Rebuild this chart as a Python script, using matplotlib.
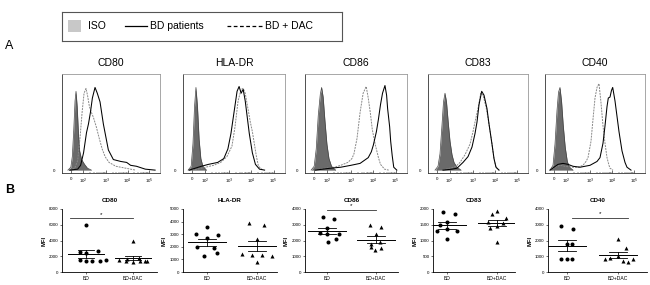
import numpy as np
import matplotlib
matplotlib.use('Agg')
import matplotlib.pyplot as plt
from matplotlib.patches import Rectangle

plt.rcParams['font.family'] = ['Liberation Sans', 'DejaVu Sans']

W, H = 650, 285

# ---- panel A: histogram curves, (channel 0-100, % of max)
markers = ['CD80', 'HLA-DR', 'CD86', 'CD83', 'CD40']
tick_labels = ['0', '10$^2$', '10$^3$', '10$^4$', '10$^5$']
tick_channels = [9, 21.5, 45, 67, 89]

cd80_iso = [(6, 0), (9, 3), (10.5, 14), (12, 42), (13.3, 72), (14.3, 82), (15.5, 66), (16.8, 38),
            (18, 20), (20, 11), (23, 6), (26, 2), (30, 0)]
cd80_bd = [(8, 0), (16, 1), (19, 5), (22, 18), (25, 39), (27, 48), (29, 60), (31, 75), (33.7, 86),
           (36, 80), (38.8, 71), (42.2, 48), (47.3, 21), (52.4, 11), (60, 9), (66, 8), (70, 5),
           (76, 4), (85, 1), (95, 0)]
cd80_dac = [(8, 0), (13, 2), (16, 10), (18.5, 35), (20.5, 60), (22.5, 80), (24.5, 85), (26, 78),
            (28, 66), (30, 60), (32, 55), (35, 45), (38, 33), (41, 22), (44, 14), (48, 8),
            (55, 4), (65, 2), (75, 0)]

hla_iso = [(5, 0), (8, 4), (9.8, 28), (11.3, 66), (12.7, 86), (14.2, 66), (15.8, 32), (17.5, 12),
           (19.5, 4), (23, 0)]
hla_bd = [(6, 0), (12, 2), (18, 4), (25, 6), (34, 8), (40, 12), (44, 22), (47, 38), (50, 60),
          (53, 82), (55, 87), (57, 80), (59, 84), (61, 72), (63, 55), (65, 38), (68, 18),
          (71, 6), (75, 1), (80, 0)]
hla_dac = [(6, 0), (14, 1), (22, 3), (30, 5), (37, 8), (43, 14), (48, 25), (51, 45), (54, 72),
           (57, 84), (59, 85), (61, 80), (63, 68), (66, 50), (68, 40), (70, 27), (72, 14),
           (74, 4), (78, 0)]

cd86_iso = [(6, 0), (9, 4), (11, 22), (13, 57), (15, 79), (16.3, 86), (17.8, 76), (19.5, 52),
            (21.5, 27), (23.5, 12), (26, 4), (30, 0)]
cd86_dac = [(10, 0), (20, 2), (29, 3), (35, 5), (42, 8), (46, 12), (48, 17), (51, 33), (54, 60),
            (57, 80), (60, 87), (62, 75), (64, 60), (66, 42), (69, 26), (72, 13), (74, 6),
            (78, 1), (82, 0)]
cd86_bd = [(10, 0), (25, 2), (35, 3), (45, 5), (54, 7), (58, 10), (62, 13), (65, 19), (67, 26),
           (70, 40), (72, 53), (74, 68), (76, 80), (78.4, 88), (80, 78), (81, 64), (83, 45),
           (84, 30), (85.5, 15), (87, 3), (90, 0)]

cd83_iso = [(7, 0), (10, 4), (12, 17), (14, 47), (15.5, 71), (17, 80), (18.5, 71), (20.2, 50),
            (22, 30), (24, 16), (26, 8), (29, 3), (33, 0)]
cd83_bd = [(15, 0), (24, 1), (29, 2), (35, 8), (40, 14), (44, 24), (47, 38), (49, 50), (51, 68),
           (53.7, 82), (56, 78), (59, 64), (61, 48), (64, 27), (66, 12), (68, 3), (71, 0)]
cd83_dac = [(15, 0), (22, 2), (28, 4), (32, 8), (37, 16), (42, 27), (45, 40), (47, 50),
            (50, 64), (52.7, 80), (55, 78), (58, 66), (61, 48), (64, 27), (66, 12), (68, 3),
            (71, 0)]

cd40_iso = [(5, 0), (8, 5), (10, 27), (12, 62), (13.5, 81), (15, 86), (16.6, 71), (18.2, 47),
            (20.2, 24), (22.3, 9), (24.5, 3), (28, 0)]
cd40_dac = [(5, 0), (10, 3), (15, 5), (20, 4), (27, 3), (33, 3), (38, 5), (41, 9), (43, 13),
            (46, 30), (48, 53), (50, 75), (52, 86), (54, 90), (56, 70), (58, 46), (60, 28),
            (62, 13), (64, 5), (65, 2), (68, 0)]
cd40_bd = [(5, 0), (9, 3), (13, 6), (18, 7), (23, 6), (28, 4), (35, 3), (45, 5), (52, 9),
           (55, 13), (58, 28), (60, 46), (62, 66), (63.3, 75), (65, 76), (66.5, 83), (67.7, 86),
           (70, 72), (72, 56), (74, 40), (77, 20), (80, 8), (82, 3), (86, 0)]

iso_curves = [cd80_iso, hla_iso, cd86_iso, cd83_iso, cd40_iso]
bd_curves = [cd80_bd, hla_bd, cd86_bd, cd83_bd, cd40_bd]
dac_curves = [cd80_dac, hla_dac, cd86_dac, cd83_dac, cd40_dac]

# ---- panel B: MFI values per patient
groups = ['BD', 'BD+DAC']
cd80_bd_mfi = [6000, 2700, 2550, 2450, 1500, 1350, 1350, 1400, 1500]
cd80_dac_mfi = [4000, 1800, 1650, 1500, 1450, 1350, 1300, 1350, 1400]
hla_bd_mfi = [3600, 3050, 2900, 2700, 2000, 1900, 1500, 1300]
hla_dac_mfi = [3850, 3750, 2600, 1400, 1350, 1350, 1300, 800]
cd86_bd_mfi = [3500, 3350, 2800, 2500, 2400, 2400, 2100, 1900]
cd86_dac_mfi = [3000, 2850, 2400, 1900, 1800, 1600, 1500, 1400]
cd83_bd_mfi = [1900, 1850, 1600, 1500, 1350, 1300, 1300, 1050]
cd83_dac_mfi = [1950, 1850, 1700, 1600, 1550, 1450, 1400, 950]
cd40_bd_mfi = [2950, 2750, 1800, 1750, 850, 800, 800]
cd40_dac_mfi = [2100, 1550, 1000, 900, 800, 700, 650, 800]

# horizontal jitter of the dots (category units)
cd80_bd_jit = [0, 0.25, -0.12, 0.0, -0.12, 0.0, 0.12, 0.3, 0.42]
cd80_dac_jit = [0, 0.12, -0.12, -0.3, 0.25, -0.15, 0.0, 0.15, 0.3]
hla_bd_jit = [0, -0.22, 0.22, 0.0, -0.2, 0.15, 0.2, -0.05]
hla_dac_jit = [-0.15, 0.15, 0.0, -0.3, -0.1, 0.1, 0.3, 0.0]
cd86_bd_jit = [-0.08, 0.15, 0.0, -0.15, 0.0, 0.25, 0.18, 0.02]
cd86_dac_jit = [-0.12, 0.1, 0.0, 0.08, -0.1, -0.1, 0.1, -0.02]
cd83_bd_jit = [-0.08, 0.15, 0.0, -0.15, 0.0, 0.2, -0.2, 0.0]
cd83_dac_jit = [0.0, -0.1, 0.18, -0.18, 0.12, 0.0, -0.15, 0.0]
cd40_bd_jit = [-0.12, 0.12, 0.1, 0.0, -0.12, 0.1, 0.0]
cd40_dac_jit = [0.0, 0.15, 0.0, -0.15, -0.25, 0.1, 0.2, 0.3]

bd_sets = [cd80_bd_mfi, hla_bd_mfi, cd86_bd_mfi, cd83_bd_mfi, cd40_bd_mfi]
dac_sets = [cd80_dac_mfi, hla_dac_mfi, cd86_dac_mfi, cd83_dac_mfi, cd40_dac_mfi]
bd_jits = [cd80_bd_jit, hla_bd_jit, cd86_bd_jit, cd83_bd_jit, cd40_bd_jit]
dac_jits = [cd80_dac_jit, hla_dac_jit, cd86_dac_jit, cd83_dac_jit, cd40_dac_jit]
y_max = [8000, 5000, 4000, 2000, 4000]
y_step = [2000, 1000, 1000, 500, 1000]
signif = [(-0.35, 1.0, 6800), None, (0.0, 1.0, 3950), None, (0.1, 1.2, 3450)]


def px_axes(fig, left, top, width, height):
    return fig.add_axes([left / W, 1 - (top + height) / H, width / W, height / H])


fig = plt.figure(figsize=(W / 100, H / 100), dpi=100)

# legend box
lg = px_axes(fig, 62, 12, 280, 29)
lg.set_xlim(0, 280)
lg.set_ylim(0, 29)
lg.set_xticks([])
lg.set_yticks([])
for s in lg.spines.values():
    s.set_linewidth(0.8)
    s.set_color('#555555')
lg.add_patch(Rectangle((6, 9), 13, 12, facecolor='#c8c8c8', edgecolor='none'))
lg.text(26, 15, 'ISO', fontsize=7.5, va='center')
lg.plot([63, 85], [15, 15], color='black', lw=0.9)
lg.text(88, 15, 'BD patients', fontsize=7.5, va='center')
lg.plot([165, 201], [15, 15], color='black', lw=0.9, ls=(0, (3, 2)))
lg.text(203, 15, 'BD + DAC', fontsize=7.5, va='center')

fig.text(5 / W, 1 - 46 / H, 'A', fontsize=9, va='center')
fig.text(5 / W, 1 - 190 / H, 'B', fontsize=9, va='center', fontweight='bold')

# panel A histograms
hist_left = [62, 183, 305, 428, 545]
hist_w = [98, 102, 102, 100, 100]
for i, name in enumerate(markers):
    ax = px_axes(fig, hist_left[i], 74, hist_w[i], 99)
    ix, iy = zip(*iso_curves[i])
    ax.fill_between(ix, iy, 0, color='#6a6a6a', lw=0)
    ax.plot(ix, iy, color='#444444', lw=0.5)
    dx, dy = zip(*dac_curves[i])
    ax.plot(dx, dy, color='#888888', lw=0.7, ls=(0, (2, 1)))
    bx, by = zip(*bd_curves[i])
    ax.plot(bx, by, color='black', lw=0.75)
    ax.set_xlim(0, 100)
    ax.set_ylim(-3, 100)
    ax.set_xticks(tick_channels)
    ax.set_xticklabels(tick_labels, fontsize=3.2)
    minor = []
    for a, b in zip(tick_channels[1:-1], tick_channels[2:]):
        minor += [a + (b - a) * np.log10(k) for k in range(2, 10)]
    ax.set_xticks(minor, minor=True)
    ax.tick_params(axis='x', which='major', direction='in', length=2, width=0.4, pad=3)
    ax.tick_params(axis='x', which='minor', direction='in', length=1, width=0.3)
    ax.set_yticks([0])
    ax.set_yticklabels(['0'], fontsize=3.2)
    ax.tick_params(axis='y', length=0, pad=5)
    for s in ax.spines.values():
        s.set_linewidth(0.6)
        s.set_color('#333333')
    ax.spines['top'].set_color('#999999')
    ax.spines['right'].set_color('#999999')
    ax.set_title(name, fontsize=7.5, pad=6)

# panel B dot plots
sc_left = [62, 183, 305, 433, 548]
sc_right = [157, 277, 398, 515, 647]
sc_bd = [86, 207, 327, 447, 567]
sc_dac = [133, 257, 376, 497, 618]
for i, name in enumerate(markers):
    top = 209
    ax = px_axes(fig, sc_left[i], top, sc_right[i] - sc_left[i], 272 - top)
    step = sc_dac[i] - sc_bd[i]
    ax.set_xlim((sc_left[i] - sc_bd[i]) / step, (sc_right[i] - sc_bd[i]) / step)
    ax.set_ylim(0, y_max[i])
    for g, (vals, jit, mk) in enumerate([(bd_sets[i], bd_jits[i], 'o'),
                                         (dac_sets[i], dac_jits[i], '^')]):
        v = np.array(vals, dtype=float)
        ax.plot(g + np.array(jit), v, mk, color='black', ms=2.9, mew=0)
        m = v.mean()
        sem = v.std(ddof=1) / np.sqrt(len(v))
        ax.plot([g - 0.38, g + 0.38], [m, m], color='black', lw=0.7)
        ax.plot([g - 0.18, g + 0.18], [m + sem, m + sem], color='black', lw=0.6)
        ax.plot([g - 0.18, g + 0.18], [m - sem, m - sem], color='black', lw=0.6)
        ax.plot([g, g], [m - sem, m + sem], color='black', lw=0.6)
    if signif[i] is not None:
        x0, x1, ys = signif[i]
        ax.plot([x0, x1], [ys, ys], color='#333333', lw=0.6, clip_on=False)
        ax.text((x0 + x1) / 2, ys + y_max[i] * 0.03, '*', fontsize=4.5, ha='center', va='bottom')
    ax.set_yticks(np.arange(0, y_max[i] + 1, y_step[i]))
    ax.tick_params(axis='y', labelsize=3.2, length=1.5, width=0.4, pad=1)
    ax.set_xticks([0, 1])
    ax.set_xticklabels(groups, fontsize=3.6)
    ax.tick_params(axis='x', length=1.5, width=0.4, pad=1.5)
    ax.spines['top'].set_visible(False)
    ax.spines['right'].set_visible(False)
    ax.spines['left'].set_linewidth(0.6)
    ax.spines['bottom'].set_linewidth(0.6)
    ax.set_ylabel('MFI', fontsize=4.2, labelpad=2, fontweight='bold')
    ax.set_title(name, fontsize=4.5, pad=5, fontweight='bold')

fig.savefig('out.png', dpi=100)
